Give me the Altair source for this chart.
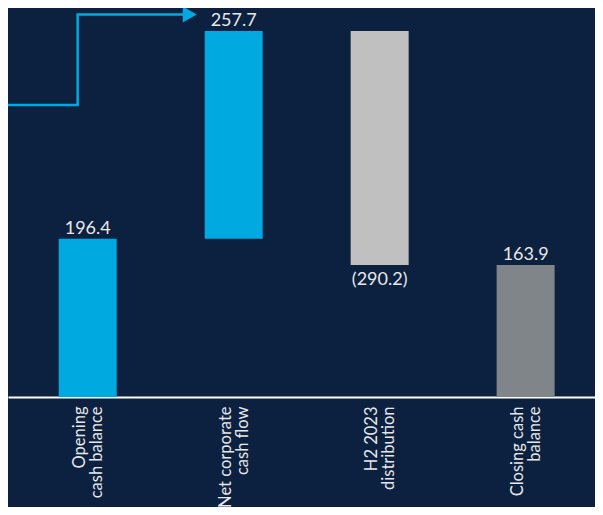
import altair as alt
import pandas as pd

categories = ["Opening\ncash balance", "Net corporate\ncash flow", "H2 2023\ndistribution", "Closing cash\nbalance"]
starts = [0, 196.4, 454.1, 0]
ends = [196.4, 454.1, 163.9, 163.9]
value_labels = ["196.4", "257.7", "(290.2)", "163.9"]
label_side = ["above", "above", "below", "above"]
bar_colors = ["#00a9e0", "#00a9e0", "#c0c0c0", "#7f8588"]

arrow_x = [-0.1, 0.431, 0.431, 1.199]
arrow_y = [362.3, 362.3, 474.5, 474.5]

BG = "#0c2040"
FONT = "Lato"

positions = [i + 0.5 for i in range(len(categories))]
df = pd.DataFrame({
    "cat": categories,
    "pos": positions,
    "start": starts,
    "end": ends,
    "label": value_labels,
    "side": label_side,
    "color": bar_colors,
    "top": [max(s, e) for s, e in zip(starts, ends)],
    "bottom": [min(s, e) for s, e in zip(starts, ends)],
})
arrow_df = pd.DataFrame({"x": arrow_x, "y": arrow_y, "i": list(range(len(arrow_x)))})
head_df = arrow_df.tail(1)

label_map = "{" + ",".join(f"'{p}': '{c}'" for p, c in zip(positions, categories)).replace("\n", "\\n") + "}"

yscale = alt.Scale(domain=[0, 476.4], nice=False, zero=False)
xscale = alt.Scale(domain=[-0.0118, 3.941], nice=False, zero=False)
xaxis = alt.Axis(values=positions, labelAngle=270, labelAlign="right", labelBaseline="middle",
                 labelPadding=9, labelFontSize=16.5, labelColor="#e8e8e8", grid=False,
                 labelFont=FONT, ticks=False, domainColor="#ffffff", domainWidth=2,
                 labelOffset=-8, labelFlush=False, labelOverlap=False,
                 labelExpr=f"split({label_map}[datum.value + ''], '\\n')", labelLineHeight=16.5)

base = alt.Chart(df)
bars = base.mark_bar(size=58).encode(
    x=alt.X("pos:Q", scale=xscale, axis=xaxis, title=None),
    y=alt.Y("start:Q", scale=yscale, axis=None),
    y2="end:Q",
    color=alt.Color("color:N", scale=None),
)
above = base.transform_filter("datum.side == 'above'").mark_text(
    baseline="bottom", dy=-1, fontSize=18, color="#e8e8e8", font=FONT
).encode(x="pos:Q", y="top:Q", text="label:N")
below = base.transform_filter("datum.side == 'below'").mark_text(
    baseline="top", dy=6, fontSize=18, color="#e8e8e8", font=FONT
).encode(x="pos:Q", y="bottom:Q", text="label:N")

line = alt.Chart(arrow_df).mark_line(color="#00a9e0", strokeWidth=2.5).encode(
    x="x:Q", y="y:Q", order="i:Q",
)
head = alt.Chart(head_df).mark_point(shape="triangle-right", filled=True, size=260,
                                      color="#00a9e0", opacity=1).encode(
    x="x:Q", y="y:Q",
)

chart = alt.layer(bars, above, below, line, head).properties(
    width=587, height=384, background=BG,
    padding={"left": 0, "top": 5, "right": 0, "bottom": 110},
    autosize=alt.AutoSizeParams(type="none"),
).configure_view(stroke=None)

chart.save("out.html", embed_options={"renderer": "svg", "actions": False})
